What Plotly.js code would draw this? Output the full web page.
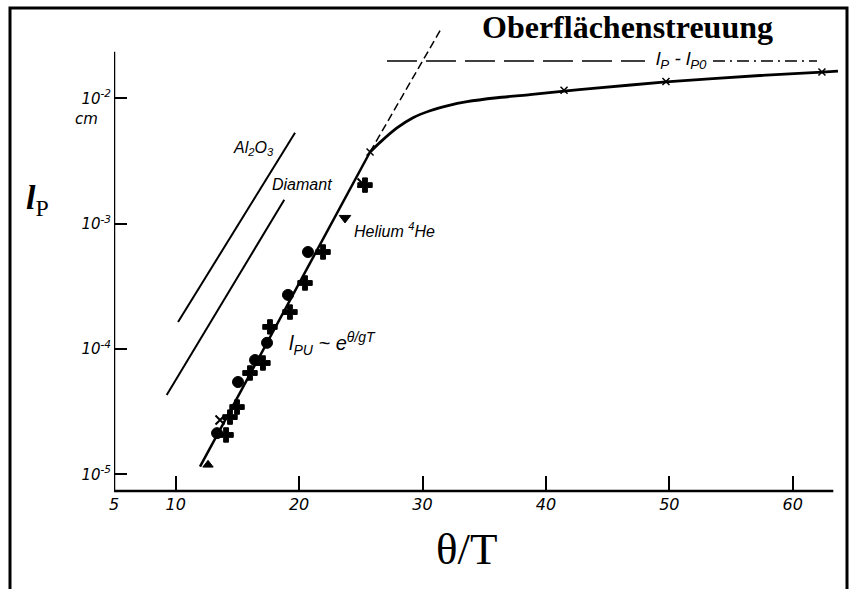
<!DOCTYPE html>
<html>
<head>
<meta charset="utf-8">
<script src="https://cdn.plot.ly/plotly-3.0.1.min.js"></script>
<style>html,body{margin:0;padding:0;background:#fff;}#chart{width:850px;height:589px;}</style>
</head>
<body>
<div id="chart"></div>
<script>
// ---- data ----
const xTickVals = [5, 10, 20, 30, 40, 50, 60];
const xTickText = ['5', '10', '20', '30', '40', '50', '60'];
const yTickVals = [1e-5, 1e-4, 1e-3, 1e-2];
const yTickText = ['10<sup>-5</sup>', '10<sup>-4</sup>', '10<sup>-3</sup>', '10<sup>-2</sup>'];

const xAl2O3 = [10.19, 19.67];
const yAl2O3 = [1.64e-4, 5.32e-3];
const xDiamant = [9.27, 18.80];
const yDiamant = [4.30e-5, 1.55e-3];

const xHeLine = [11.97, 25.75];
const yHeLine = [1.15e-5, 3.73e-3];
const xHeCurve = [25.75, 26.56, 27.93, 29.23, 30.61, 31.99, 33.61, 36.04, 38.71, 41.47, 43.82, 49.73, 57.35, 62.37, 63.67];
const yHeCurve = [3.73e-3, 4.45e-3, 5.80e-3, 7.00e-3, 7.95e-3, 8.70e-3, 9.40e-3, 1.01e-2, 1.07e-2, 1.14e-2, 1.20e-2, 1.35e-2, 1.52e-2, 1.62e-2, 1.65e-2];
const xExtrap = [25.75, 31.50];
const yExtrap = [3.73e-3, 3.57e-2];
const xSat1 = [27.12, 48.03];
const xSat2 = [53.54, 61.97];
const ySat = [0.01986, 0.01986];

const xCurveMarks = [25.75, 41.47, 49.73, 62.37];
const yCurveMarks = [3.73e-3, 1.16e-2, 1.36e-2, 1.62e-2];

const xCircles = [13.35, 15.05, 16.43, 17.40, 19.10, 20.72];
const yCircles = [2.13e-5, 5.45e-5, 8.16e-5, 1.12e-4, 2.70e-4, 5.94e-4];
const xCrosses = [14.08, 14.40, 14.97, 16.02, 17.07, 17.64, 19.26, 20.48, 21.94, 25.34];
const yCrosses = [2.06e-5, 2.86e-5, 3.44e-5, 6.43e-5, 7.73e-5, 1.50e-4, 1.97e-4, 3.36e-4, 5.94e-4, 2.03e-3];
const xXmarks = [13.59, 25.10];
const yXmarks = [2.71e-5, 2.11e-3];
const xTriUp = [12.62];
const yTriUp = [1.19e-5];
const xTriDown = [23.72];
const yTriDown = [1.11e-3];

// ---- layout helpers (pixel -> paper) ----
const ML = 114, MT = 20, MR = 5, MB = 98, W = 850, H = 589;
const PW = W - ML - MR, PH = H - MT - MB;
const PX = px => (px - ML) / PW;
const PY = py => (H - MB - py) / PH;

const black = '#000';
const lineTrace = (x, y, w, dash, shape) => ({
  x: x, y: y, type: 'scatter', mode: 'lines',
  line: {color: black, width: w, dash: dash || 'solid', shape: shape || 'linear', smoothing: 0.6},
  showlegend: false, hoverinfo: 'skip'
});
const markTrace = (x, y, symbol, size) => ({
  x: x, y: y, type: 'scatter', mode: 'markers',
  marker: {symbol: symbol, size: size, color: black, line: {color: black, width: 1}},
  showlegend: false, hoverinfo: 'skip'
});

const traces = [
  lineTrace(xAl2O3, yAl2O3, 2),
  lineTrace(xDiamant, yDiamant, 2),
  lineTrace(xHeLine, yHeLine, 2.5),
  lineTrace(xHeCurve, yHeCurve, 2.8, 'solid', 'spline'),
  lineTrace(xExtrap, yExtrap, 1.5, '8px,4px'),
  lineTrace(xSat1, ySat, 1.5, '30px,9px'),
  lineTrace(xSat2, ySat, 1.5, '12px,5px,2px,5px'),
  {x: xCurveMarks, y: yCurveMarks, type: 'scatter', mode: 'markers',
   marker: {symbol: 'x-thin', size: 7, color: black, line: {color: black, width: 1.5}},
   showlegend: false, hoverinfo: 'skip'},
  markTrace(xCircles, yCircles, 'circle', 11),
  markTrace(xCrosses, yCrosses, 'cross', 12),
  {x: xXmarks, y: yXmarks, type: 'scatter', mode: 'markers',
   marker: {symbol: 'x-thin', size: 9, color: black, line: {color: black, width: 2}},
   showlegend: false, hoverinfo: 'skip'},
  markTrace(xTriUp, yTriUp, 'triangle-up', 9),
  markTrace(xTriDown, yTriDown, 'triangle-down', 10)
];

const italic = sz => ({family: 'Liberation Sans, Arial, sans-serif', size: sz, color: black, style: 'italic'});
const tickItalic = sz => ({family: 'DejaVu Sans, sans-serif', size: sz, color: black, style: 'italic'});
const ann = (px, py, text, font) => ({
  xref: 'paper', yref: 'paper', x: PX(px), y: PY(py), text: text,
  showarrow: false, xanchor: 'center', yanchor: 'middle', font: font
});

const layout = {
  width: W, height: H,
  margin: {l: ML, r: MR, t: MT, b: MB, pad: 0},
  paper_bgcolor: '#fff', plot_bgcolor: '#fff',
  showlegend: false,
  hovermode: false,
  xaxis: {
    range: [5, 5 + PW / 12.34],
    tickvals: xTickVals, ticktext: xTickText,
    ticks: 'inside', ticklen: 15, tickwidth: 2, tickcolor: black,
    tickfont: tickItalic(16),
    ticklabelstandoff: 2,
    showgrid: false, zeroline: false, showline: false
  },
  yaxis: {
    type: 'log',
    range: [-5.1333, -1.3752],
    tickvals: yTickVals, ticktext: yTickText,
    ticks: 'inside', ticklen: 13, tickwidth: 2, tickcolor: black,
    tickfont: tickItalic(15),
    ticklabelstandoff: 2,
    showgrid: false, zeroline: false, showline: false
  },
  shapes: [
    {type: 'rect', xref: 'paper', yref: 'paper', x0: PX(10), x1: PX(847), y0: PY(620), y1: PY(8),
     line: {color: black, width: 3}},
    {type: 'line', xref: 'x', yref: 'paper', x0: 5, x1: 5, y0: 0, y1: PY(51.7),
     line: {color: black, width: 2.5}},
    {type: 'line', xref: 'x', yref: 'paper', x0: 5, x1: 63.29, y0: 0, y1: 0,
     line: {color: black, width: 2.5}}
  ],
  annotations: [
    ann(627, 27, '<b>Oberflächenstreuung</b>', {family: 'Liberation Serif, Times New Roman, serif', size: 32, color: black}),
    ann(467, 549, 'θ/T', {family: 'Liberation Serif, Times New Roman, serif', size: 45, color: black}),
    ann(37, 200, '<b><i>l</i></b><sub>P</sub>', {family: 'Liberation Serif, Times New Roman, serif', size: 34, color: black}),
    ann(86, 119, 'cm', tickItalic(15)),
    ann(253, 148, 'Al<sub>2</sub>O<sub>3</sub>', italic(16)),
    ann(302, 184, 'Diamant', italic(16)),
    ann(394, 230, 'Helium <sup>4</sup>He', italic(16)),
    ann(332, 343, 'l<sub>PU</sub> ~ e<sup>θ/gT</sup>', italic(20)),
    ann(681, 60, 'l<sub>P</sub> - l<sub>P0</sub>', italic(19))
  ]
};

Plotly.newPlot('chart', traces, layout, {staticPlot: true, displayModeBar: false});
</script>
</body>
</html>
